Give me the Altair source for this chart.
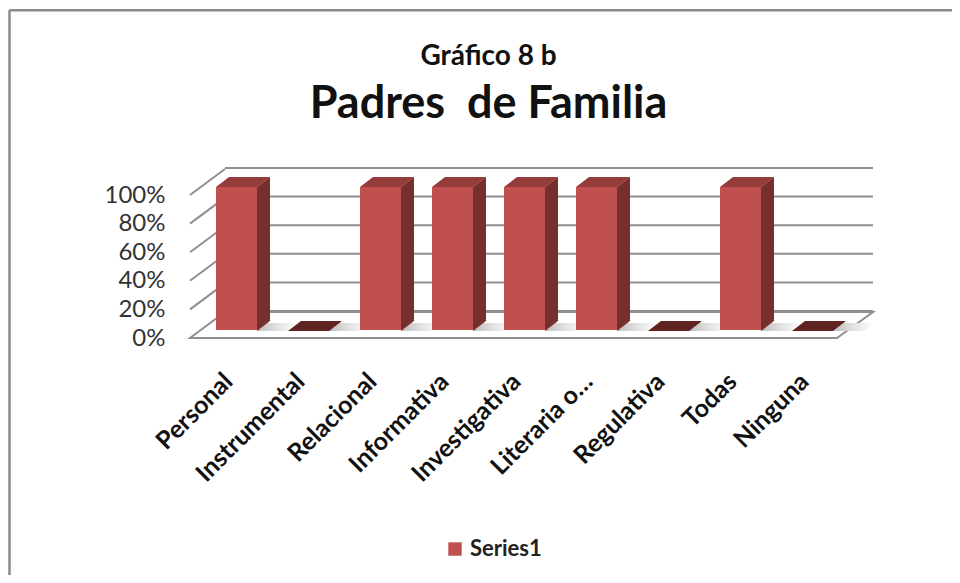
import altair as alt
import pandas as pd

categories = ["Personal", "Instrumental", "Relacional", "Informativa", "Investigativa",
              "Literaria o…", "Regulativa", "Todas", "Ninguna"]
values = [1, 0, 1, 1, 1, 1, 0, 1, 0]
series = ["Series1"] * 9
ticks = [0, 0.2, 0.4, 0.6, 0.8, 1.0]

df = pd.DataFrame({"cat": categories, "v": values, "s": series})
tf = pd.DataFrame({"t": ticks})

FONT = "Lato"
GRID = "#8f8f8f"

xs = alt.Scale(domain=categories, range=[10.5, 658.5], paddingInner=0, paddingOuter=0)
ys = alt.Scale(domain=[0, 1])
x_axis = alt.Axis(labelAngle=-45, labelAlign="right", labelBaseline="middle",
                  labelFont=FONT, labelFontWeight="bold", labelFontSize=25,
                  labelColor="#111111", labelPadding=39, labelOffset=-8, labelOverlap=False,
                  ticks=False, domain=False, zindex=1)
y_axis = alt.Axis(format=".0%", values=ticks, labelFont=FONT, labelFontSize=24,
                  labelColor="#333333", labelPadding=25, labelOverlap=False,
                  ticks=False, domain=False, grid=False, zindex=1)
X = alt.X("cat:N", scale=xs, sort=None, title=None, axis=x_axis)
Y = alt.Y("v:Q", scale=ys, title=None, axis=y_axis)
Yt = alt.Y("t:Q", scale=ys, title=None, axis=y_axis)

border_top = alt.Chart(df.head(1)).mark_rule(color="#8a8a8a", strokeWidth=2.5).encode(
    x=alt.value(-180.5), x2=alt.value(770), y=alt.value(-184.7))
border_left = alt.Chart(df.head(1)).mark_rule(color="#8a8a8a", strokeWidth=2.5).encode(
    x=alt.value(-180.5), y=alt.value(-184.7), y2=alt.value(388))

floor = alt.Chart(df.head(1)).mark_point(
    shape="M0 0 L647 0 L683 -26 L35 -26 Z", size=4, filled=True, fill="white",
    stroke=GRID, strokeWidth=2, opacity=1).encode(x=alt.value(0), y=alt.value(143))

wall = alt.Chart(tf).mark_rule(color=GRID, strokeWidth=2, yOffset=-27).encode(
    x=alt.value(35), x2=alt.value(683), y=Yt)
slant = alt.Chart(tf[tf.t > 0]).mark_point(
    shape="M0 0 L35 -26", size=4, filled=False, stroke=GRID, strokeWidth=2, opacity=1).encode(
    x=alt.value(0), y=Yt)

shade = alt.LinearGradient(gradient="linear", x1=0, x2=1, y1=0, y2=0, stops=[
    alt.GradientStop(offset=0, color="#bdbdbd"),
    alt.GradientStop(offset=0.5, color="#e2e2e2"),
    alt.GradientStop(offset=1, color="#ffffff")])
shadow = alt.Chart(df).mark_point(
    shape="M20 0 L52 0 L62 -8 L30 -8 Z", size=4, filled=True, fill=shade, stroke=None,
    opacity=1, yOffset=-7).encode(x=X, y=alt.value(143))

side = alt.Chart(df[df.v > 0]).mark_point(
    shape="M20.5 0 L33.5 -10 L33.5 134 L20.5 144 Z", size=4, filled=True, fill="#772f2e",
    stroke=None, opacity=1, yOffset=-8).encode(x=X, y=Y)

top_hi = alt.Chart(df[df.v > 0]).mark_point(
    shape="M-20.5 0 L20.5 0 L33.5 -10 L-7.5 -10 Z", size=4, filled=True, fill="#943c3a",
    stroke=None, opacity=1, yOffset=-8).encode(x=X, y=Y)
top_lo = alt.Chart(df[df.v == 0]).mark_point(
    shape="M-20.5 0 L20.5 0 L33.5 -10 L-7.5 -10 Z", size=4, filled=True, fill="#5f2321",
    stroke=None, opacity=1, yOffset=-7).encode(x=X, y=Y)

front = alt.Chart(df[df.v > 0]).mark_bar(size=41, yOffset=-8, y2Offset=-7).encode(
    x=X, y=Y,
    color=alt.Color("s:N", title=None,
                    scale=alt.Scale(domain=["Series1"], range=["#c0504d"]),
                    legend=alt.Legend(orient="none", legendX=254, legendY=343,
                                      symbolType="square", symbolSize=180, symbolStrokeWidth=0,
                                      labelFont=FONT, labelFontWeight="bold", labelFontSize=22,
                                      labelColor="#222222", labelOffset=4)))

chart = alt.layer(border_top, border_left, floor, wall, slant, shadow, side, top_hi, top_lo, front).properties(
    width=683, height=143, background="white",
    padding={"left": 182, "top": 187, "right": 79, "bottom": 237},
    autosize=alt.AutoSizeParams(type="none"),
    title=alt.TitleParams(
        text="Gráfico 8 b", subtitle="Padres\u00a0 de Familia",
        font=FONT, fontSize=28, fontWeight="bold", color="#111111",
        subtitleFont=FONT, subtitleFontSize=45, subtitleFontWeight="bold",
        subtitleColor="#111111", subtitlePadding=11,
        anchor="middle", dx=-43, dy=145, offset=27),
).configure_view(stroke=None)

chart.save("out.html", embed_options={"renderer": "svg", "actions": False})
